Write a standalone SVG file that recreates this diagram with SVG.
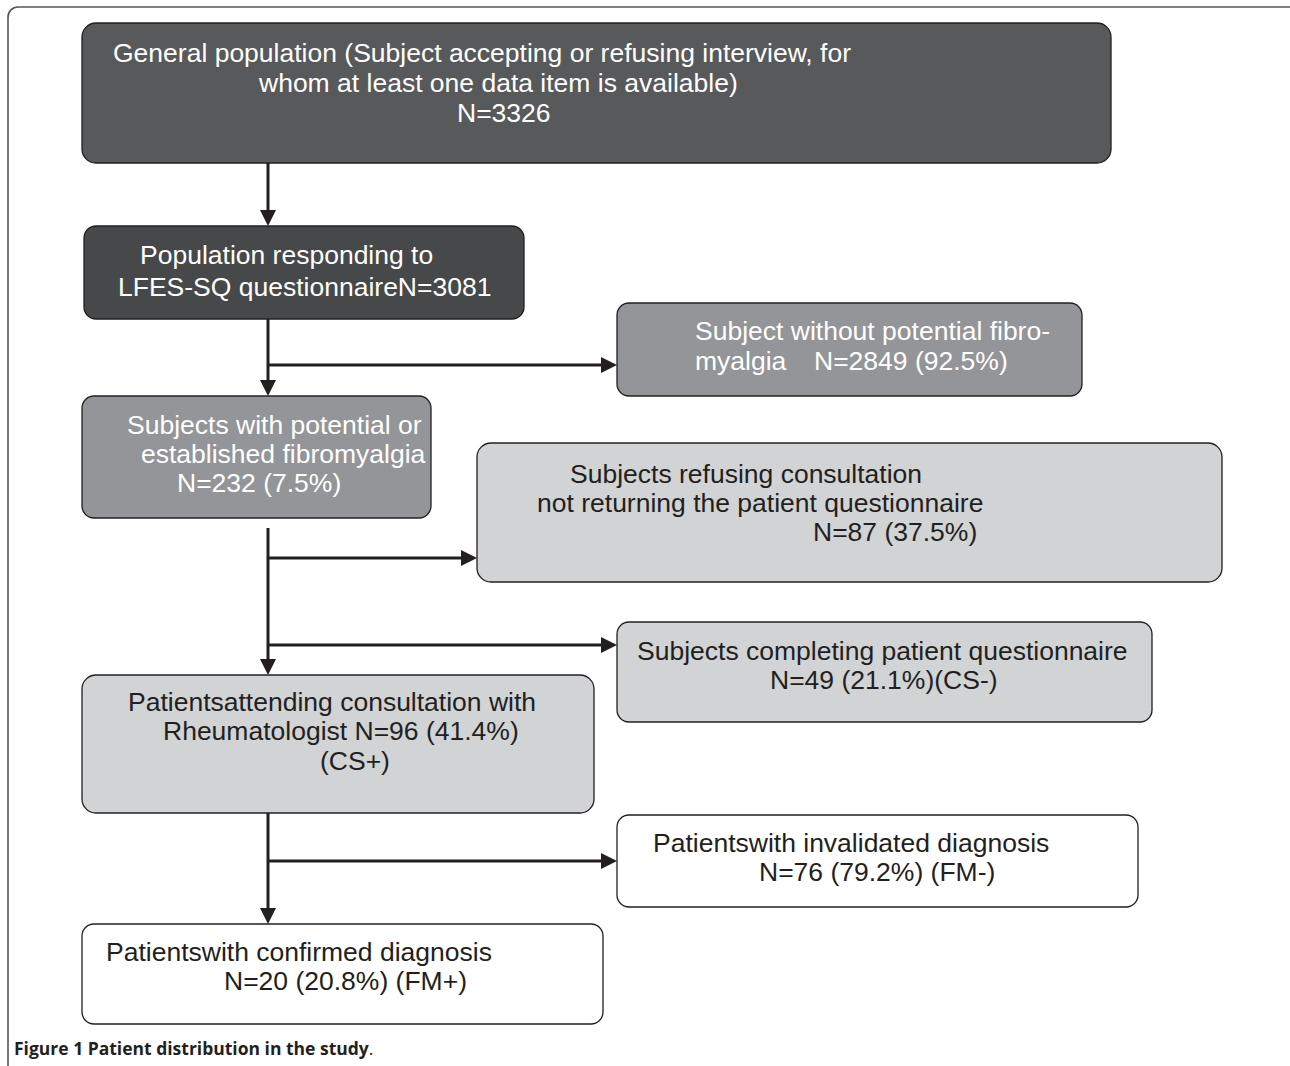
<svg xmlns="http://www.w3.org/2000/svg" width="1290" height="1066" viewBox="0 0 1290 1066">
<defs>
<style>
.box{stroke:#231f20;stroke-width:1.3}
.t{font-family:"Liberation Sans",Arial,sans-serif;font-size:26.5px}
.w{fill:#ffffff}
.k{fill:#231f20}
.c{fill:none;stroke:#231f20;stroke-width:3}
.cap{font-family:"Open Sans","Liberation Sans",sans-serif;font-size:17.5px;fill:#231f20}
</style>
<marker id="ah" markerUnits="userSpaceOnUse" markerWidth="17" markerHeight="17" refX="10" refY="8" orient="auto">
<path d="M0,0 L16,8 L0,16 z" fill="#231f20"/>
</marker>
</defs>
<rect width="1290" height="1066" fill="#ffffff"/>
<rect x="8" y="7" width="1300" height="1075" rx="10" fill="none" stroke="#555" stroke-width="1.6"/>

<g id="connectors">
<path class="c" d="M268,163 V220" marker-end="url(#ah)"/>
<path class="c" d="M268,319 V390" marker-end="url(#ah)"/>
<path class="c" d="M268,365 H611" marker-end="url(#ah)"/>
<path class="c" d="M268,528 V669" marker-end="url(#ah)"/>
<path class="c" d="M268,558 H471" marker-end="url(#ah)"/>
<path class="c" d="M268,645 H611" marker-end="url(#ah)"/>
<path class="c" d="M268,813 V918" marker-end="url(#ah)"/>
<path class="c" d="M268,861 H611" marker-end="url(#ah)"/>
</g>

<g id="n1">
<rect class="box" x="82" y="23" width="1029" height="140" rx="14" fill="#58595b"/>
<text class="t w" x="113" y="62">General population (Subject accepting or refusing interview, for</text>
<text class="t w" x="259" y="92">whom at least one data item is available)</text>
<text class="t w" x="457" y="122">N=3326</text>
</g>

<g id="n2">
<rect class="box" x="84" y="226" width="440" height="93" rx="12" fill="#46484a"/>
<text class="t w" x="140" y="264">Population responding to</text>
<text class="t w" x="118" y="296">LFES-SQ questionnaireN=3081</text>
</g>

<g id="n3">
<rect class="box" x="82" y="396" width="349" height="122" rx="12" fill="#939598"/>
<text class="t w" x="127" y="434">Subjects with potential or</text>
<text class="t w" x="141" y="463">established fibromyalgia</text>
<text class="t w" x="177" y="492">N=232 (7.5%)</text>
</g>

<g id="n4">
<rect class="box" x="617" y="303" width="465" height="93" rx="12" fill="#939598"/>
<text class="t w" x="695" y="340">Subject without potential fibro-</text>
<text class="t w" x="695" y="370">myalgia</text>
<text class="t w" x="814" y="370">N=2849 (92.5%)</text>
</g>

<g id="n5">
<rect class="box" x="477" y="443" width="745" height="139" rx="14" fill="#d1d3d4"/>
<text class="t k" x="570" y="483">Subjects refusing consultation</text>
<text class="t k" x="537" y="512">not returning the patient questionnaire</text>
<text class="t k" x="813" y="541">N=87 (37.5%)</text>
</g>

<g id="n6">
<rect class="box" x="82" y="675" width="512" height="138" rx="14" fill="#d1d3d4"/>
<text class="t k" x="128" y="711">Patientsattending consultation with</text>
<text class="t k" x="163" y="740">Rheumatologist N=96 (41.4%)</text>
<text class="t k" x="320" y="770">(CS+)</text>
</g>

<g id="n7">
<rect class="box" x="617" y="622" width="535" height="100" rx="12" fill="#d1d3d4"/>
<text class="t k" x="637" y="660">Subjects completing patient questionnaire</text>
<text class="t k" x="770" y="689">N=49 (21.1%)(CS-)</text>
</g>

<g id="n8">
<rect class="box" x="617" y="815" width="521" height="92" rx="12" fill="#ffffff"/>
<text class="t k" x="653" y="852">Patientswith invalidated diagnosis</text>
<text class="t k" x="759" y="881">N=76 (79.2%) (FM-)</text>
</g>

<g id="n9">
<rect class="box" x="82" y="924" width="521" height="100" rx="12" fill="#ffffff"/>
<text class="t k" x="106" y="961">Patientswith confirmed diagnosis</text>
<text class="t k" x="224" y="990">N=20 (20.8%) (FM+)</text>
</g>

<text class="cap" x="14" y="1055"><tspan font-weight="bold">Figure 1 Patient distribution in the study</tspan>.</text>
</svg>
